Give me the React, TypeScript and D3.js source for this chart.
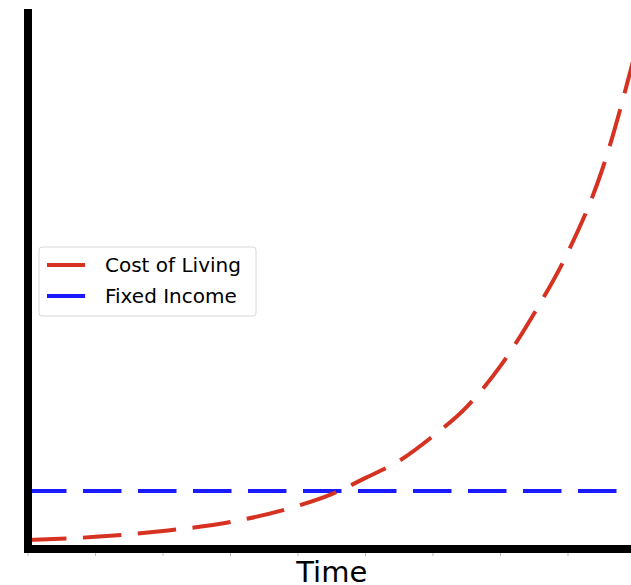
import React from 'react'
import * as d3 from 'd3';

// time points and values
const costTime = [0, 1, 2, 3, 4, 4.5, 5, 5.5, 6, 6.5, 7, 7.5, 8, 8.5, 9];
const costValues = [2.0, 2.7, 4.0, 6.0, 9.6, 12.2, 15.8, 19.6, 25.1, 31.6, 40.7, 52.4, 66.0, 84.0, 110.5];
const incomeTime = [0, 9];
const incomeValues = [12.9, 12.9];
const timeTicks = [0, 1, 2, 3, 4, 5, 6, 7, 8, 9];
const seriesNames = ['Cost of Living', 'Fixed Income'];
const seriesColors = ['#d63222', '#1a1aff'];

const width = 631;
const height = 585;
const left = 28;
const right = 635.5;
const top = 9;
const bottom = 549;

export default function App() {
  const x = d3.scaleLinear().domain([0, 9]).range([left, right]);
  const y = d3.scaleLinear().domain([0, 120]).range([bottom, top]);

  const line = d3.line<[number, number]>()
    .x(d => x(d[0]))
    .y(d => y(d[1]))
    .curve(d3.curveMonotoneX);

  const cost = costTime.map((t, i) => [t, costValues[i]] as [number, number]);
  const income = incomeTime.map((t, i) => [t, incomeValues[i]] as [number, number]);

  const font = '"DejaVu Sans", sans-serif';

  return (
    <svg width={width} height={height} style={{ position: 'absolute', left: 0, top: 0, display: 'block' }}>
      <rect width={width} height={height} fill="#fff" />
      {/* minor ticks under the time axis */}
      {timeTicks.map(t => (
        <line key={t} x1={x(t)} x2={x(t)} y1={bottom} y2={bottom + 7} stroke="#bbb" strokeWidth={1} />
      ))}
      <path d={line(income) || ''} fill="none" stroke={seriesColors[1]} strokeWidth={4}
        strokeDasharray="38.5 16.5" />
      <path d={line(cost) || ''} fill="none" stroke={seriesColors[0]} strokeWidth={4}
        strokeDasharray="38.5 16.5" />
      {/* spines */}
      <line x1={left} x2={left} y1={top} y2={bottom + 4} stroke="#000" strokeWidth={8} />
      <line x1={left - 4} x2={width} y1={bottom} y2={bottom} stroke="#000" strokeWidth={8} />
      <text x={(left + right) / 2} y={582} fontFamily={font} fontSize={29} textAnchor="middle" fill="#000">Time</text>
      {/* legend */}
      <g>
        <rect x={39} y={247} width={217} height={69} rx={3} fill="#fff" fillOpacity={0.8} stroke="#d8d8d8" strokeWidth={1} />
        {seriesNames.map((name, i) => (
          <g key={name} transform={`translate(0, ${265 + i * 31})`}>
            <line x1={47} x2={85} y1={0} y2={0} stroke={seriesColors[i]} strokeWidth={4} />
            <text x={105} y={7} fontFamily={font} fontSize={20} fill="#000">{name}</text>
          </g>
        ))}
      </g>
    </svg>
  )
}
